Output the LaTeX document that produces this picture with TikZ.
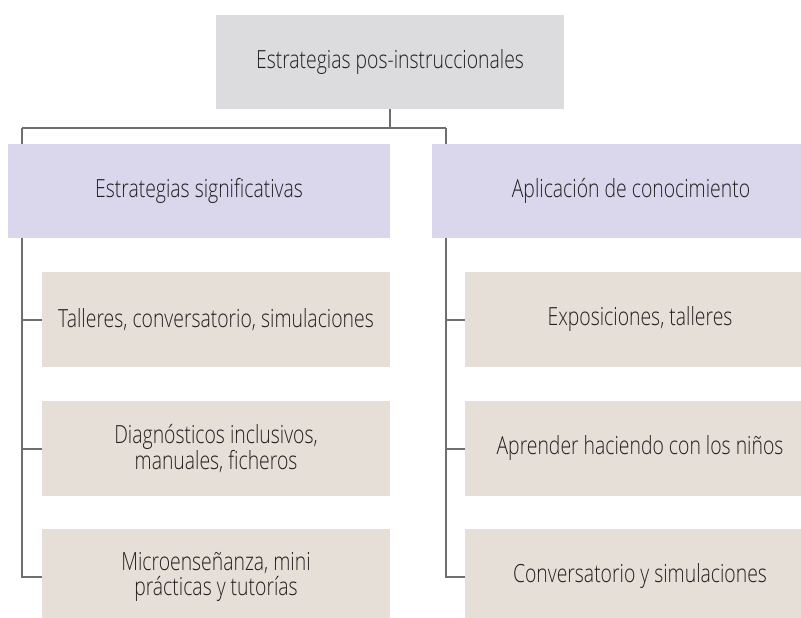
\documentclass[tikz,border=0pt]{standalone}
\usepackage{fontspec}
\IfFontExistsTF{Open Sans Light}
  {\setmainfont{Open Sans Light}[FakeStretch=0.775]}
  {\setmainfont{Open Sans}[FakeStretch=0.76]}
\usetikzlibrary{backgrounds}
\definecolor{topgray}{HTML}{DCDCDE}
\definecolor{lilac}{HTML}{DAD6EC}
\definecolor{beige}{HTML}{E6DFD7}
\definecolor{linegray}{HTML}{6D6E71}
\definecolor{txt}{HTML}{231F20}
\tikzset{
  box/.style={rectangle, inner sep=0pt, outer sep=0pt, text=txt, font=\fontsize{25}{25}\selectfont, align=center},
  topbox/.style={box, fill=topgray},
  headbox/.style={box, fill=lilac},
  itembox/.style={box, fill=beige},
  conn/.style={draw=linegray, line width=2pt}
}
\begin{document}
\begin{tikzpicture}[x=1pt,y=-1pt]
\useasboundingbox (0,0) rectangle (801,618);
\clip (0,0) rectangle (801,618);
% top
\node[topbox, minimum width=348pt, minimum height=94pt] (top) at (390,62) {Estrategias pos-instruccionales};
% headers
\node[headbox, minimum width=382pt, minimum height=94pt] (hl) at (199,191) {Estrategias significativas};
\node[headbox, minimum width=398pt, minimum height=94pt] (hr) at (631,191) {Aplicación de conocimiento};
% left items
\node[itembox, minimum width=348pt, minimum height=95pt] (l1) at (216,319.5) {Talleres, conversatorio, simulaciones};
\node[itembox, minimum width=348pt, minimum height=95pt] (l2) at (216,448.5) {Diagnósticos inclusivos,\\manuales, ficheros};
\node[itembox, minimum width=348pt, minimum height=95pt] (l3) at (216,576.5) {Microenseñanza, mini\\prácticas y tutorías};
% right items
\node[itembox, minimum width=350pt, minimum height=95pt] (r1) at (640,319.5) {Exposiciones, talleres};
\node[itembox, minimum width=350pt, minimum height=95pt] (r2) at (640,448.5) {Aprender haciendo con los niños};
\node[itembox, minimum width=350pt, minimum height=95pt] (r3) at (640,576.5) {Conversatorio y simulaciones};
% connectors
\coordinate (jl) at (22,128);
\coordinate (jr) at (446,128);
\begin{scope}[on background layer]
\draw[conn] (top.south) -- (top.south |- jl);
\draw[conn] (jl) -- (jr);
\draw[conn] (jr) -- (jr |- r3.west) -- (r3.west);
\draw[conn] (jl) -- (jl |- l3.west) -- (l3.west);
\draw[conn] (jl |- l1.west) -- (l1.west);
\draw[conn] (jl |- l2.west) -- (l2.west);
\draw[conn] (jr |- r1.west) -- (r1.west);
\draw[conn] (jr |- r2.west) -- (r2.west);
\end{scope}
\end{tikzpicture}
\end{document}
